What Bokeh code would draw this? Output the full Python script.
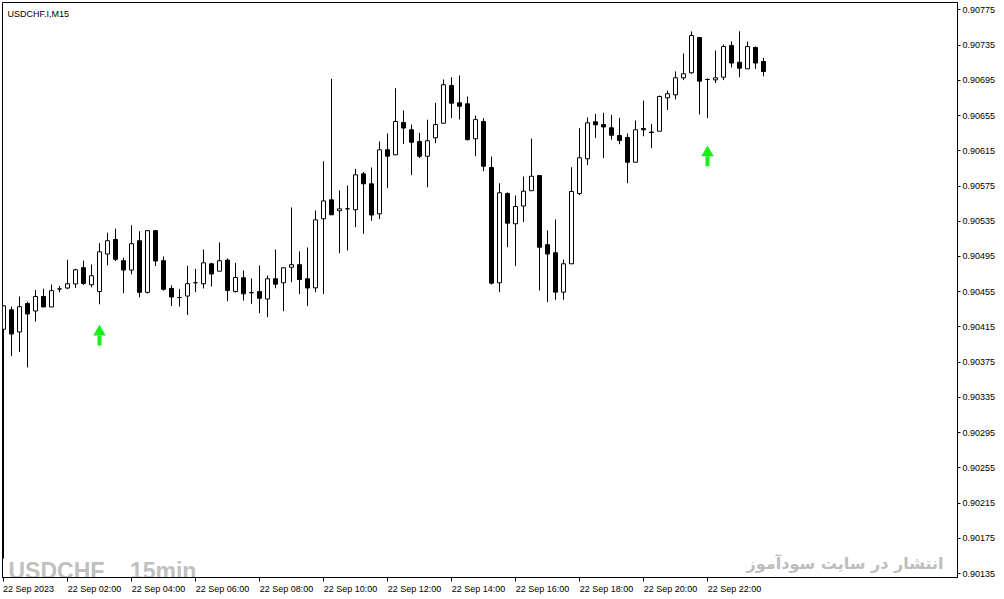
from bokeh.plotting import figure
from bokeh.models import Range1d, FixedTicker, PrintfTickFormatter, ColumnDataSource
from bokeh.embed import file_html
from bokeh.resources import INLINE
from bokeh.core.properties import value

# ---- data: USDCHF.I M15, 22 Sep 2023, 96 bars (00:00 .. 23:45) ----
opens = [0.904124, 0.904345, 0.904093, 0.904416, 0.904331, 0.904496, 0.904377, 0.904581,
         0.904592, 0.904638, 0.904823, 0.904629, 0.904552, 0.904978, 0.905143, 0.904902,
         0.904796, 0.905129, 0.904543, 0.905243, 0.904902, 0.904587, 0.904484, 0.904501,
         0.904652, 0.904640, 0.904867, 0.904783, 0.904909, 0.904552, 0.904708, 0.904539,
         0.904552, 0.904467, 0.904697, 0.904651, 0.904828, 0.904857, 0.904697, 0.904594,
         0.905378, 0.905593, 0.905469, 0.905491, 0.905480, 0.905888, 0.905775, 0.905434,
         0.906161, 0.906104, 0.906471, 0.906388, 0.906255, 0.906088, 0.906297, 0.906463,
         0.906891, 0.906694, 0.906683, 0.906286, 0.906482, 0.905960, 0.904651, 0.905665,
         0.905321, 0.905523, 0.905696, 0.905869, 0.905084, 0.904992, 0.904545, 0.904867,
         0.905665, 0.906059, 0.906479, 0.906448, 0.906411, 0.906323, 0.906301, 0.906020,
         0.906403, 0.906363, 0.906372, 0.906751, 0.906785, 0.906978, 0.907035, 0.907436,
         0.906959, 0.906955, 0.906985, 0.907345, 0.907155, 0.907080, 0.907322, 0.907163]
highs = [0.904395, 0.904382, 0.904496, 0.904437, 0.904570, 0.904584, 0.904632, 0.904615,
         0.904913, 0.904811, 0.904904, 0.904859, 0.905101, 0.905220, 0.905265, 0.904936,
         0.905304, 0.905237, 0.905243, 0.905243, 0.904950, 0.904623, 0.904581, 0.904845,
         0.904810, 0.905029, 0.904878, 0.905109, 0.904927, 0.904878, 0.904791, 0.904700,
         0.904848, 0.904734, 0.905029, 0.904822, 0.905506, 0.905007, 0.905052, 0.905472,
         0.906030, 0.906967, 0.905699, 0.905756, 0.905945, 0.905909, 0.905960, 0.906255,
         0.906346, 0.906860, 0.906607, 0.906448, 0.906354, 0.906503, 0.906694, 0.906959,
         0.906985, 0.907004, 0.906766, 0.906550, 0.906520, 0.906085, 0.905782, 0.905679,
         0.905642, 0.905858, 0.906289, 0.905869, 0.905245, 0.905370, 0.904916, 0.905963,
         0.906406, 0.906528, 0.906570, 0.906581, 0.906558, 0.906524, 0.906346, 0.906494,
         0.906720, 0.906454, 0.906777, 0.906834, 0.907050, 0.907254, 0.907504, 0.907442,
         0.906970, 0.907288, 0.907356, 0.907392, 0.907506, 0.907390, 0.907333, 0.907205]
lows = [0.901522, 0.903820, 0.903866, 0.903690, 0.904212, 0.904377, 0.904377, 0.904543,
        0.904579, 0.904592, 0.904626, 0.904600, 0.904407, 0.904850, 0.904898, 0.904533,
        0.904748, 0.904487, 0.904530, 0.904842, 0.904562, 0.904388, 0.904382, 0.904286,
        0.904545, 0.904587, 0.904609, 0.904783, 0.904442, 0.904541, 0.904450, 0.904413,
        0.904306, 0.904261, 0.904589, 0.904329, 0.904658, 0.904522, 0.904386, 0.904545,
        0.904523, 0.905423, 0.904987, 0.905018, 0.905282, 0.905207, 0.905355, 0.905374,
        0.905727, 0.906104, 0.906226, 0.905874, 0.906068, 0.905736, 0.906236, 0.906456,
        0.906520, 0.906505, 0.906267, 0.906088, 0.905918, 0.904632, 0.904545, 0.905055,
        0.904840, 0.905339, 0.905696, 0.904564, 0.904431, 0.904459, 0.904459, 0.904867,
        0.905646, 0.905988, 0.906293, 0.906066, 0.906276, 0.906224, 0.905782, 0.906020,
        0.906314, 0.906179, 0.906372, 0.906613, 0.906732, 0.906952, 0.907024, 0.906562,
        0.906520, 0.906919, 0.906952, 0.907095, 0.906985, 0.907080, 0.907080, 0.906995]
closes = [0.904390, 0.904070, 0.904380, 0.904297, 0.904496, 0.904377, 0.904562, 0.904581,
          0.904640, 0.904799, 0.904643, 0.904731, 0.905003, 0.905129, 0.904918, 0.904796,
          0.905095, 0.904543, 0.905243, 0.904899, 0.904577, 0.904490, 0.904484, 0.904641,
          0.904652, 0.904878, 0.904751, 0.904901, 0.904564, 0.904711, 0.904526, 0.904539,
          0.904476, 0.904697, 0.904635, 0.904822, 0.904857, 0.904689, 0.904592, 0.905366,
          0.905581, 0.905423, 0.905491, 0.905491, 0.905877, 0.905775, 0.905421, 0.906161,
          0.906088, 0.906482, 0.906408, 0.906247, 0.906088, 0.906263, 0.906447, 0.906899,
          0.906690, 0.906656, 0.906276, 0.906504, 0.905975, 0.904647, 0.905673, 0.905328,
          0.905517, 0.905691, 0.905861, 0.905055, 0.904978, 0.904545, 0.904867, 0.905688,
          0.906070, 0.906467, 0.906445, 0.906420, 0.906326, 0.906267, 0.906020, 0.906388,
          0.906388, 0.906357, 0.906766, 0.906797, 0.906978, 0.907024, 0.907458, 0.906940,
          0.906959, 0.906978, 0.907333, 0.907146, 0.907087, 0.907333, 0.907146, 0.907050]

time_tick_index = [0, 8, 16, 24, 32, 40, 48, 56, 64, 72, 80, 88]
time_tick_labels = ["22 Sep 2023", "22 Sep 02:00", "22 Sep 04:00", "22 Sep 06:00",
                    "22 Sep 08:00", "22 Sep 10:00", "22 Sep 12:00", "22 Sep 14:00",
                    "22 Sep 16:00", "22 Sep 18:00", "22 Sep 20:00", "22 Sep 22:00"]
price_ticks = [0.90135, 0.90175, 0.90215, 0.90255, 0.90295, 0.90335, 0.90375, 0.90415,
               0.90455, 0.90495, 0.90535, 0.90575, 0.90615, 0.90655, 0.90695, 0.90735,
               0.90775]

# signal arrows (bar index, price at arrow head base)
arrow_index = [12, 88]
arrow_price = [0.904053, 0.906088]

symbol_label = "USDCHF.I,M15"
watermark_left = "USDCHF _ 15min"
watermark_right = "انتشار در سایت سودآموز"

# ---- figure ----
x_start, x_end = -0.125, 119.25
y_start, y_end = 0.901306, 0.907833
FW, FH = 955, 575
PX_PER_BAR = FW / (x_end - x_start)

p = figure(frame_width=FW, frame_height=FH,
           x_range=Range1d(x_start, x_end), y_range=Range1d(y_start, y_end),
           y_axis_location="right", output_backend="svg", toolbar_location=None,
           min_border=0, min_border_left=2, min_border_top=2, min_border_bottom=20)
p.background_fill_color = "white"
p.border_fill_color = "white"
p.outline_line_color = "black"
p.outline_line_width = 1
p.xgrid.visible = False
p.ygrid.visible = False

AXFONT = "Liberation Sans"
ya = p.yaxis[0]
ya.ticker = FixedTicker(ticks=price_ticks)
ya.formatter = PrintfTickFormatter(format="%.5f")
ya.major_tick_out = 3
ya.major_tick_in = 0
ya.minor_tick_line_color = None
ya.major_label_standoff = 2
ya.axis_line_color = "black"
ya.major_label_text_font = AXFONT
ya.major_label_text_font_size = "9px"
ya.major_label_text_color = "black"

# Time axis: the terminal writes each label starting at its tick, so the label
# (centred by Bokeh) sits half its width to the right; the tick marks are the
# ticker's minor ticks at the bar positions.
label_pos = []
for t, lab in zip(time_tick_index, time_tick_labels):
    half_w = len(lab) * 4.55 / 2 / PX_PER_BAR
    label_pos.append(t + round(half_w * 8) / 8)
xa = p.xaxis[0]
xa.ticker = FixedTicker(ticks=label_pos, minor_ticks=time_tick_index)
xa.major_label_overrides = {pos: lab for pos, lab in zip(label_pos, time_tick_labels)}
xa.major_tick_line_color = None
xa.major_tick_out = 2
xa.major_tick_in = 0
xa.minor_tick_line_color = "black"
xa.minor_tick_out = 4
xa.minor_tick_in = 0
xa.axis_line_color = "black"
xa.major_label_standoff = 2
xa.major_label_text_font = AXFONT
xa.major_label_text_font_size = "9px"
xa.major_label_text_color = "black"

# ---- candles ----
n = len(opens)
idx = list(range(n))
bull = [c >= o for o, c in zip(opens, closes)]
src = ColumnDataSource(dict(
    x=idx,
    top=[max(o, c) for o, c in zip(opens, closes)],
    bottom=[min(o, c) for o, c in zip(opens, closes)],
    high=highs, low=lows,
    fill=["white" if b else "black" for b in bull],
))
p.segment(x0="x", y0="low", x1="x", y1="high", source=src, line_color="black", line_width=1)
p.vbar(x="x", top="top", bottom="bottom", width=0.5, source=src,
       fill_color="fill", line_color="black", line_width=1)

# ---- arrows ----
lime = "#19F019"
dpp = (y_end - y_start) / FH
tri = 12.5
tri_h = tri * 3 ** 0.5 / 2
p.rect(x=arrow_index, y=[a - 5 * dpp for a in arrow_price], width=4, height=10,
       width_units="screen", height_units="screen", fill_color=lime, line_color=None)
p.scatter(x=arrow_index, y=[a + tri_h / 3 * dpp for a in arrow_price], marker="triangle",
          size=tri, fill_color=lime, line_color=None)

# ---- texts ----
p.text(x=[x_start], y=[y_end], text=[symbol_label], x_offset=5, y_offset=11,
       text_baseline="alphabetic", text_align="left", text_font=value(AXFONT),
       text_font_size="9px", text_color="black")
p.text(x=[x_start], y=[y_start], text=[watermark_left], x_offset=6, y_offset=-7,
       text_baseline="alphabetic", text_align="left",
       text_font=value("Liberation Sans"), text_font_style="bold",
       text_font_size="23px", text_color="#C0C0C0")
p.text(x=[x_end], y=[y_start], text=[watermark_right], x_offset=-14, y_offset=-14,
       text_baseline="alphabetic", text_align="right",
       text_font=value("DejaVu Sans"), text_font_style="bold",
       text_font_size="16px", text_color="#BDBDBD")

html = file_html(p, INLINE)
html = html.replace("</head>", "<style>html,body{margin:0;padding:0;}</style></head>", 1)
open("out.html", "w").write(html)
